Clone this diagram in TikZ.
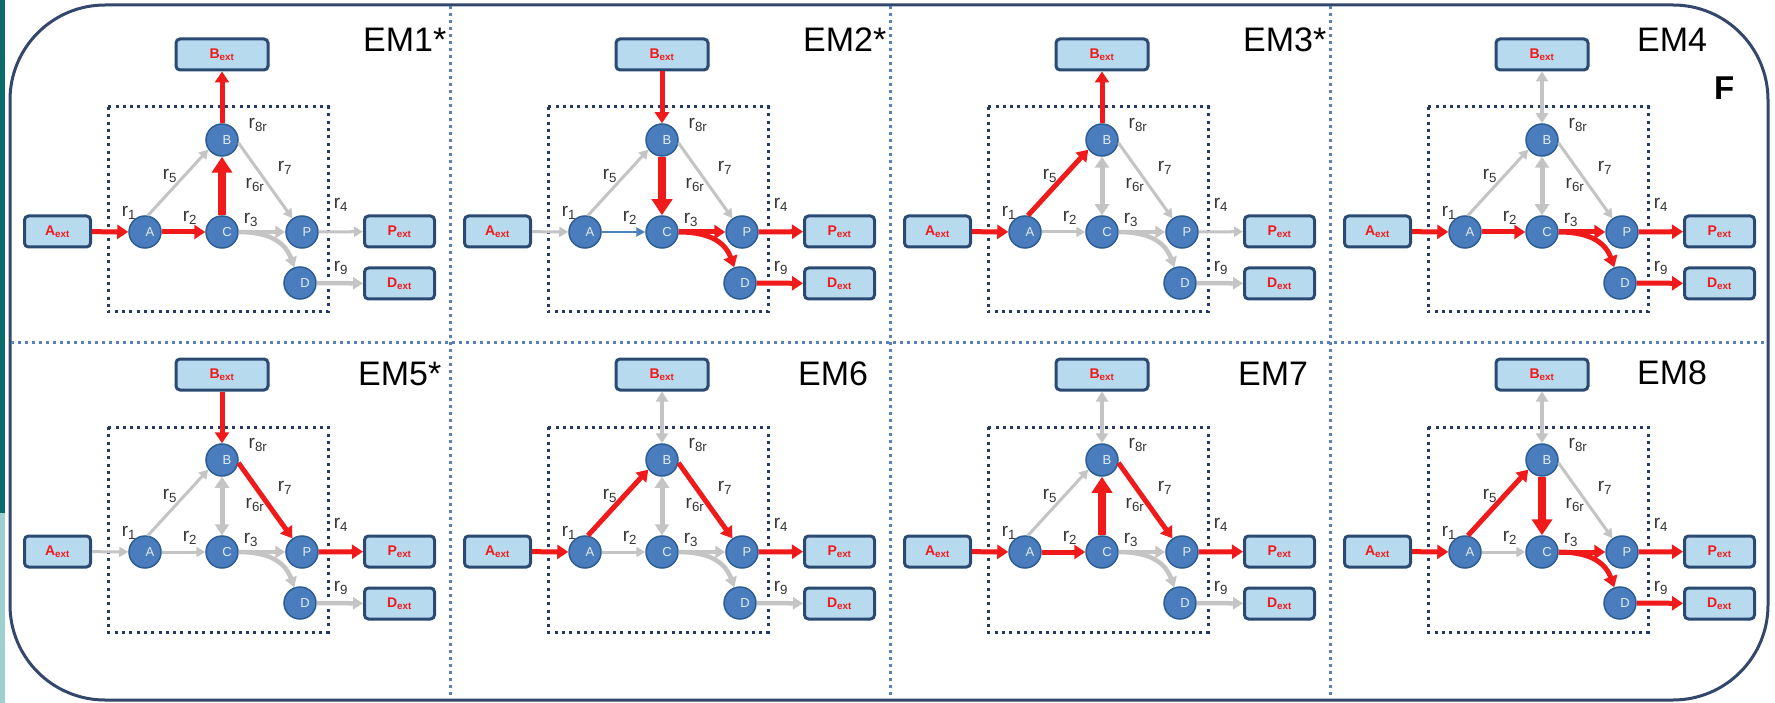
\documentclass[tikz,border=0pt]{standalone}
\usepackage{fontspec}
\setmainfont{Liberation Sans}
\usetikzlibrary{arrows.meta}
\definecolor{myred}{HTML}{F01A1A}
\definecolor{mygrey}{HTML}{C4C4C4}
\definecolor{nodeblue}{HTML}{4A7DBD}
\definecolor{nodeborder}{HTML}{2D5D94}
\definecolor{extfill}{HTML}{B8DAEE}
\definecolor{extborder}{HTML}{2A4A72}
\definecolor{outerc}{HTML}{33466B}
\definecolor{divblue}{HTML}{5B82B8}
\definecolor{innernavy}{HTML}{253A63}
\definecolor{tealc}{HTML}{0B6B6B}
\definecolor{lteal}{HTML}{9FD0D0}
\definecolor{labgrey}{HTML}{333333}
\definecolor{flowblue}{HTML}{4F81BD}

\newcommand\panel[3]{% #1 prefix, #2 dx, #3 dy
\begin{scope}[shift={(#2,#3)}]
 \draw[innerbox] (108,107) rectangle (328,312);
 \node[ext, minimum width=92pt] (#1Bx) at (222,54.5) {B\textsubscript{ext}};
 \node[ext, minimum width=66pt] (#1Ax) at (57.5,231.5) {A\textsubscript{ext}};
 \node[ext, minimum width=70pt] (#1Px) at (399.5,231.5) {P\textsubscript{ext}};
 \node[ext, minimum width=70pt] (#1Dx) at (399.5,283.5) {D\textsubscript{ext}};
 \node[circ] (#1A) at (145,232) {\hspace*{10pt}A};
 \node[circ] (#1B) at (222,140) {\hspace*{10pt}B};
 \node[circ] (#1C) at (222,232) {\hspace*{10pt}C};
 \node[circ] (#1P) at (302,232) {\hspace*{10pt}P};
 \node[circ] (#1D) at (300,283) {\hspace*{10pt}D};
 \node[rl] (#1l1) at (129,213) {r\textsubscript{1}};
 \node[rl] (#1l2) at (190,218) {r\textsubscript{2}};
 \node[rl] (#1l3) at (251,220) {r\textsubscript{3}};
 \node[rl] (#1l4) at (341,205) {r\textsubscript{4}};
 \node[rl] (#1l5) at (170,176) {r\textsubscript{5}};
 \node[rl] (#1l6) at (255,185) {r\textsubscript{6r}};
 \node[rl] (#1l7) at (285,168) {r\textsubscript{7}};
 \node[rl] (#1l8) at (258,125) {r\textsubscript{8r}};
 \node[rl] (#1l9) at (341,268) {r\textsubscript{9}};
\end{scope}}

\newcommand\edges[7]{% #1 prefix; #2 r1; #3 r2; #4 r3 and r9; #5 r4; #6 r5; #7 r7
 \draw[#2] (#1Ax) -- (#1A);
 \draw[#3] (#1A) -- (#1C);
 \draw[#4] (#1C.east) to[out=0,in=110,looseness=1.1] (#1D);
 \draw[#4] (#1C) -- (#1P);
 \draw[#4] (#1D) -- (#1Dx);
 \draw[#5] (#1P) -- (#1Px);
 \draw[#6] (#1A.80) -- (#1B.215);
 \draw[#7] (#1B.-10) -- (#1P.125);
}

\begin{document}
\begin{tikzpicture}[x=1pt,y=-1pt,
  innerbox/.style={draw=innernavy, line width=3pt, dash pattern=on 3pt off 4.3pt},
  divider/.style={draw=divblue, line width=3pt, dash pattern=on 3pt off 4pt},
  ext/.style={rectangle, rounded corners=4pt, fill=extfill, draw=extborder, line width=3pt,
     minimum height=31pt, inner sep=0pt, text=myred, font=\bfseries\fontsize{14}{14}\selectfont},
  circ/.style={circle, fill=nodeblue, draw=nodeborder, line width=1.5pt, minimum size=32pt,
     inner sep=0pt, text=white!85!nodeblue, font=\fontsize{13}{13}\selectfont},
  rl/.style={font=\fontsize{19}{19}\selectfont, text=labgrey, inner sep=0pt},
  emlab/.style={font=\fontsize{34}{34}\selectfont, text=black, inner sep=0pt, anchor=base west},
  redarr/.style={draw=myred, line width=5pt, -{Triangle[width=14pt,length=11pt]}},
  redthick/.style={draw=myred, line width=8pt, -{Triangle[width=20pt,length=16pt]}},
  greyarr/.style={draw=mygrey, line width=3pt, -{Triangle[width=10pt,length=9pt]}},
  greyr3/.style={draw=mygrey, line width=4.5pt, -{Triangle[width=12pt,length=10pt]}},
  greydbl/.style={draw=mygrey, line width=5pt, {Triangle[width=14pt,length=11pt]}-{Triangle[width=14pt,length=11pt]}},
  greydbl8/.style={draw=mygrey, line width=4pt, {Triangle[width=12pt,length=10pt]}-{Triangle[width=12pt,length=10pt]}},
  bluearr/.style={draw=flowblue, line width=2.2pt, -{Triangle[width=9pt,length=9pt]}}
 ]
\useasboundingbox (0,0) rectangle (1775,703);
\fill[white] (0,0) rectangle (1775,703);
\fill[tealc] (0,0) rectangle (5,513);
\fill[lteal] (0,513) rectangle (5,703);
\draw[draw=outerc, line width=3pt, rounded corners=95pt] (10,5) rectangle (1768,700);

% dividers
\draw[divider] (450,6) -- (450,699);
\draw[divider] (890,6) -- (890,699);
\draw[divider] (1330,6) -- (1330,699);
\draw[divider] (11,342) -- (1767,342);

% panels
\panel{a}{0}{0}
\panel{b}{440}{0}
\panel{c}{880}{0}
\panel{d}{1320}{0}
\panel{e}{0}{320}
\panel{f}{440}{320}
\panel{g}{880}{320}
\panel{h}{1320}{320}

% labels
\node[emlab] (em1) at (363,52) {EM1*};
\node[emlab] (em2) at (803,52) {EM2*};
\node[emlab] (em3) at (1243,52) {EM3*};
\node[emlab] (em4) at (1637,52) {EM4};
\node[emlab] (em5) at (358,385) {EM5*};
\node[emlab] (em6) at (798,385) {EM6};
\node[emlab] (em7) at (1238,385) {EM7};
\node[emlab] (em8) at (1637,384) {EM8};
\node[font=\bfseries\fontsize{33}{33}\selectfont, inner sep=0pt, anchor=base west] (F) at (1714,100) {F};

% EM1
\edges{a}{redarr}{redarr}{greyr3}{greyarr}{greyarr}{greyarr}
\draw[redthick] (aC) -- (aB);
\draw[redarr] (aB) -- (aBx);
% EM2
\edges{b}{greyarr}{bluearr}{redarr}{redarr}{greyarr}{greyarr}
\draw[redthick] (bB) -- (bC);
\draw[redarr] (bBx) -- (bB);
% EM3
\edges{c}{redarr}{greyarr}{greyr3}{greyarr}{redarr}{greyarr}
\draw[greydbl] (cB) -- (cC);
\draw[redarr] (cB) -- (cBx);
% EM4
\edges{d}{redarr}{redarr}{redarr}{redarr}{greyarr}{greyarr}
\draw[greydbl] (dB) -- (dC);
\draw[greydbl8] (dBx) -- (dB);
% EM5
\edges{e}{greyarr}{greyarr}{greyr3}{redarr}{greyarr}{redarr}
\draw[greydbl] (eB) -- (eC);
\draw[redarr] (eBx) -- (eB);
% EM6
\edges{f}{redarr}{greyarr}{greyr3}{redarr}{redarr}{redarr}
\draw[greydbl] (fB) -- (fC);
\draw[greydbl8] (fBx) -- (fB);
% EM7
\edges{g}{redarr}{redarr}{greyr3}{redarr}{greyarr}{redarr}
\draw[redthick] (gC) -- (gB);
\draw[greydbl8] (gBx) -- (gB);
% EM8
\edges{h}{redarr}{greyarr}{redarr}{redarr}{redarr}{greyarr}
\draw[redthick] (hB) -- (hC);
\draw[greydbl8] (hBx) -- (hB);
\end{tikzpicture}
\end{document}
